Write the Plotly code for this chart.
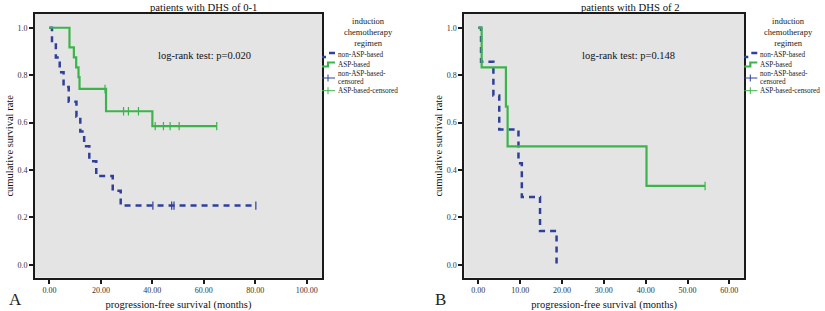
import plotly.graph_objects as go

# ---------------- data ----------------
# Panel A: patients with DHS of 0-1
a_non_t = [0, 1.0, 2.5, 4.0, 5.5, 7.5, 10.5, 12.0, 13.5, 15.5, 18.2, 24.6, 27.7, 80.2]
a_non_s = [1.0, 0.9375, 0.875, 0.8125, 0.75, 0.6875, 0.625, 0.5625, 0.5, 0.4375, 0.375, 0.3125, 0.25, 0.25]
a_non_cens_t = [40.2, 47.5, 48.4, 80.2]
a_non_cens_s = [0.25, 0.25, 0.25, 0.25]

a_asp_t = [0, 7.8, 9.5, 10.4, 11.3, 11.7, 22.0, 40.0, 65.0]
a_asp_s = [1.0, 0.917, 0.875, 0.833, 0.792, 0.742, 0.648, 0.585, 0.585]
a_asp_cens_t = [21.6, 28.8, 30.7, 34.6, 41.1, 44.3, 46.9, 50.4, 65.0]
a_asp_cens_s = [0.742, 0.648, 0.648, 0.648, 0.585, 0.585, 0.585, 0.585, 0.585]

# Panel B: patients with DHS of 2
b_non_t = [0, 0.65, 3.6, 5.0, 9.6, 10.4, 14.75, 18.7]
b_non_s = [1.0, 0.857, 0.714, 0.571, 0.429, 0.286, 0.143, 0.0]

b_asp_t = [0, 0.8, 6.6, 7.0, 40.2, 54.2]
b_asp_s = [1.0, 0.833, 0.667, 0.5, 0.333, 0.333]
b_asp_cens_t = [54.2]
b_asp_cens_s = [0.333]

a_xticks = [0, 20, 40, 60, 80, 100]
b_xticks = [0, 10, 20, 30, 40, 50, 60]
yticks = [0.0, 0.2, 0.4, 0.6, 0.8, 1.0]

titles = ["patients with DHS of 0-1", "patients with DHS of 2"]
pvals = ["log-rank test: p=0.020", "log-rank test: p=0.148"]
legend_labels = ["non-ASP-based", "ASP-based", "non-ASP-based-", "censored", "ASP-based-censored"]
legend_title = "induction<br>chemotherapy<br>regimen"

# ---------------- style ----------------
W, H = 825, 311
BLUE = "#2f3f9a"
GREEN = "#3cb44b"
BG = "#e4e4e4"
FONT = "Liberation Serif"

def px(x):
    return x / W

def py(y):
    return 1 - y / H

fig = go.Figure()

def step(t, s, xa, ya, color, dash, width):
    fig.add_trace(go.Scatter(x=t, y=s, mode="lines", line=dict(shape="hv", color=color, width=width, dash=dash),
                             xaxis=xa, yaxis=ya, showlegend=False, hoverinfo="skip"))

def cens(t, s, xa, ya, color):
    fig.add_trace(go.Scatter(x=t, y=s, mode="markers",
                             marker=dict(symbol="line-ns-open", size=6, color=color, line=dict(color=color, width=1.2)),
                             xaxis=xa, yaxis=ya, showlegend=False, hoverinfo="skip"))

DASH = "6px,5px"
step(a_non_t, a_non_s, "x", "y", BLUE, DASH, 2.5)
step(a_asp_t, a_asp_s, "x", "y", GREEN, "solid", 2.2)
cens(a_non_cens_t, a_non_cens_s, "x", "y", BLUE)
cens(a_asp_cens_t, a_asp_cens_s, "x", "y", GREEN)

step(b_non_t, b_non_s, "x2", "y2", BLUE, DASH, 2.5)
step(b_asp_t, b_asp_s, "x2", "y2", GREEN, "solid", 2.2)
cens(b_asp_cens_t, b_asp_cens_s, "x2", "y2", GREEN)

yr = [-0.054, 1.058]
ydom = [py(277.7), py(14)]

def xaxis(dom, rng, ticks):
    return dict(domain=dom, range=rng, tickvals=ticks, ticktext=[f"{v:.2f}" for v in ticks],
                showgrid=False, zeroline=False, showline=True, linecolor="#1a1a1a", linewidth=2, mirror=True,
                ticks="outside", ticklen=4, tickwidth=1.5, tickcolor="#1a1a1a",
                tickfont=dict(family=FONT, size=8, color="#333"),
                title=dict(text="progression-free survival (months)", font=dict(family=FONT, size=10.5, color="#111"),
                           standoff=6),
                automargin=False, fixedrange=True)

def yaxis(anchor, ticks):
    return dict(domain=ydom, range=yr, tickvals=ticks, ticktext=[f"{v:.1f}" for v in ticks], anchor=anchor,
                showgrid=False, zeroline=False, showline=True, linecolor="#1a1a1a", linewidth=2, mirror=True,
                ticks="outside", ticklen=4, tickwidth=1.5, tickcolor="#1a1a1a",
                tickfont=dict(family=FONT, size=8, color="#333"),
                title=dict(text="cumulative survival rate", font=dict(family=FONT, size=10.5, color="#111"),
                           standoff=2),
                automargin=False, fixedrange=True)

xa = xaxis([px(35), px(322)], [-5.6, 105.9], a_xticks)
xa["anchor"] = "y"
xb = xaxis([px(464.3), px(744)], [-3.35, 63.5], b_xticks)
xb["anchor"] = "y2"

fig.update_layout(
    width=W, height=H, margin=dict(l=0, r=0, t=0, b=0),
    paper_bgcolor="white", plot_bgcolor=BG,
    xaxis=xa, yaxis=yaxis("x", yticks),
    xaxis2=xb, yaxis2=yaxis("x2", yticks),
    showlegend=False,
)

anns = []
shapes = []
for i, (cx, lx, title, pv, letter, letx) in enumerate([
        (203, 322, titles[0], pvals[0], "A", 15),
        (630, 744.3, titles[1], pvals[1], "B", 440)]):
    anns.append(dict(x=px(cx), y=py(6.5), xref="paper", yref="paper", text=title, showarrow=False,
                     font=dict(family=FONT, size=10.7, color="#111"), xanchor="center", yanchor="middle"))
    pcx = 204 if i == 0 else 628
    anns.append(dict(x=px(pcx), y=py(56), xref="paper", yref="paper", text=pv, showarrow=False,
                     font=dict(family=FONT, size=10.5, color="#111"), xanchor="center", yanchor="middle"))
    anns.append(dict(x=px(letx), y=py(299), xref="paper", yref="paper", text=letter, showarrow=False,
                     font=dict(family=FONT, size=17, color="#222"), xanchor="center", yanchor="middle"))
    # legend
    tcx = lx + 46 if i == 0 else lx + 44
    anns.append(dict(x=px(tcx), y=py(32.5), xref="paper", yref="paper", text=legend_title, showarrow=False,
                     font=dict(family=FONT, size=8.5, color="#222"), xanchor="center", yanchor="middle",
                     align="center"))
    tx = lx + 15
    ys = [55.0, 64.8, 74.3, 81.7, 91.0]
    for lab, yy in zip(legend_labels, ys):
        anns.append(dict(x=px(tx), y=py(yy), xref="paper", yref="paper", text=lab, showarrow=False,
                         font=dict(family=FONT, size=7.2, color="#222"), xanchor="left", yanchor="middle",
                         align="left", borderpad=0))
    # legend symbols
    x0 = lx
    shapes += [
        dict(type="line", xref="paper", yref="paper", x0=px(x0), x1=px(x0 + 4), y0=py(57), y1=py(57),
             line=dict(color=BLUE, width=2.5)),
        dict(type="line", xref="paper", yref="paper", x0=px(x0 + 7), x1=px(x0 + 13), y0=py(53), y1=py(53),
             line=dict(color=BLUE, width=2.5)),
        dict(type="path", xref="paper", yref="paper",
             path=f"M {px(x0)} {py(66.5)} L {px(x0 + 6)} {py(66.5)} L {px(x0 + 6)} {py(62.5)} L {px(x0 + 13)} {py(62.5)}",
             line=dict(color=GREEN, width=2.2)),
        dict(type="line", xref="paper", yref="paper", x0=px(x0), x1=px(x0 + 13), y0=py(78), y1=py(78),
             line=dict(color=BLUE, width=1)),
        dict(type="line", xref="paper", yref="paper", x0=px(x0 + 6), x1=px(x0 + 6), y0=py(74.5), y1=py(81.5),
             line=dict(color=BLUE, width=1)),
        dict(type="line", xref="paper", yref="paper", x0=px(x0), x1=px(x0 + 13), y0=py(90.7), y1=py(90.7),
             line=dict(color=GREEN, width=1)),
        dict(type="line", xref="paper", yref="paper", x0=px(x0 + 6), x1=px(x0 + 6), y0=py(87.2), y1=py(94.2),
             line=dict(color=GREEN, width=1)),
    ]

fig.update_layout(annotations=anns, shapes=shapes)
fig.write_html("out.html", config={"displayModeBar": False},
               post_script="document.body.style.margin='0';document.body.style.overflow='hidden';")
